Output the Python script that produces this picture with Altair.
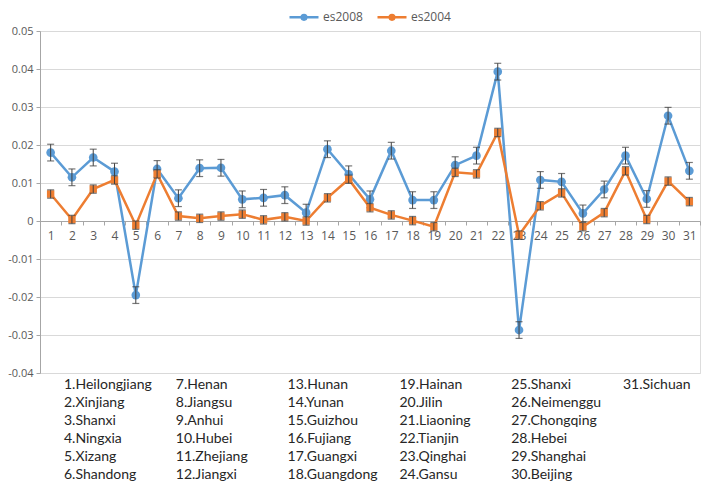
import altair as alt
import pandas as pd

# ---------------- data ----------------
index = list(range(1, 32))
es2008 = [0.0180, 0.0115, 0.0167, 0.0130, -0.0195, 0.0137, 0.0060, 0.0139, 0.0140, 0.0057,
          0.0061, 0.0068, 0.0022, 0.0189, 0.0123, 0.0057, 0.0185, 0.0055, 0.0055, 0.0147,
          0.0172, 0.0393, -0.0287, 0.0108, 0.0103, 0.0020, 0.0083, 0.0172, 0.0058, 0.0277, 0.0132]
es2004 = [0.0071, 0.0004, 0.0084, 0.0108, -0.0011, 0.0124, 0.0013, 0.0007, 0.0013, 0.0018,
          0.0003, 0.0011, 0.0000, 0.0061, 0.0110, 0.0035, 0.0016, 0.0001, -0.0015, 0.0128,
          0.0124, 0.0233, -0.0037, 0.0040, 0.0074, -0.0015, 0.0022, 0.0132, 0.0004, 0.0105, 0.0051]
err2008 = [0.0022, 0.0022, 0.0022, 0.0022, 0.0022, 0.0022, 0.0022, 0.0022, 0.0022, 0.0022,
           0.0022, 0.0022, 0.0022, 0.0022, 0.0022, 0.0022, 0.0022, 0.0022, 0.0022, 0.0022,
           0.0022, 0.0022, 0.0022, 0.0022, 0.0022, 0.0022, 0.0022, 0.0022, 0.0022, 0.0022, 0.0022]
err2004 = [0.0011, 0.0011, 0.0011, 0.0011, 0.0011, 0.0011, 0.0011, 0.0011, 0.0011, 0.0011,
           0.0011, 0.0011, 0.0011, 0.0011, 0.0011, 0.0011, 0.0011, 0.0011, 0.0011, 0.0011,
           0.0011, 0.0011, 0.0011, 0.0011, 0.0011, 0.0011, 0.0011, 0.0011, 0.0011, 0.0011, 0.0011]
series_names = ["es2008", "es2004"]
series_colors = ["#5B9BD5", "#ED7D31"]
y_ticks = [-0.04, -0.03, -0.02, -0.01, 0.0, 0.01, 0.02, 0.03, 0.04, 0.05]
provinces = ["Heilongjiang", "Xinjiang", "Shanxi", "Ningxia", "Xizang", "Shandong",
             "Henan", "Jiangsu", "Anhui", "Hubei", "Zhejiang", "Jiangxi",
             "Hunan", "Yunan", "Guizhou", "Fujiang", "Guangxi", "Guangdong",
             "Hainan", "Jilin", "Liaoning", "Tianjin", "Qinghai", "Gansu",
             "Shanxi", "Neimenggu", "Chongqing", "Hebei", "Shanghai", "Beijing",
             "Sichuan"]

rows = []
for name, vals, errs in [("es2008", es2008, err2008), ("es2004", es2004, err2004)]:
    for i, v, e in zip(index, vals, errs):
        rows.append({"series": name, "idx": i, "value": v, "lo": v - e, "hi": v + e})
df = pd.DataFrame(rows)

lab = pd.DataFrame({
    "label": [f"{i}.{p}" for i, p in zip(index, provinces)],
    "col": [(i - 1) // 6 for i in index],
    "row": [(i - 1) % 6 for i in index],
})

# ---------------- encodings ----------------
x_enc = alt.X("idx:O",
              scale=alt.Scale(type="band", domain=index, paddingInner=0, paddingOuter=0),
              axis=alt.Axis(title=None, offset=-152, labelAngle=0, tickBand="extent",
                            domainColor="#a6a6a6", tickColor="#a6a6a6", tickSize=4,
                            labelColor="#595959", labelFontSize=12, labelFont="Open Sans",
                            labelPadding=5, grid=False))
y_scale = alt.Scale(domain=[-0.04, 0.05], nice=False, zero=False)
y_axis = alt.Axis(title=None, values=y_ticks, grid=True, gridColor="#d9d9d9",
                  domainColor="#a6a6a6", tickColor="#a6a6a6", tickSize=4,
                  labelPadding=3, labelColor="#595959", labelFontSize=11,
                  labelFont="Open Sans", labelOverlap=False, labelFlush=False,
                  labelExpr="datum.value == 0 ? '0' : (datum.value < 0 ? '-' + format(-datum.value, '.2f') : format(datum.value, '.2f'))")
y_enc = alt.Y("value:Q", scale=y_scale, axis=y_axis)
y_lo = alt.Y("lo:Q", scale=y_scale, axis=y_axis)
y_hi = alt.Y("hi:Q", scale=y_scale, axis=y_axis)

legend = alt.Legend(title=None, orient="none", legendX=248, legendY=-30, direction="horizontal",
                    symbolType="M-1,0L1,0M0.16,0A0.16,0.16 0 1,1 -0.16,0A0.16,0.16 0 1,1 0.16,0",
                    symbolSize=841, symbolStrokeWidth=2.5, labelFontSize=12,
                    labelFont="Open Sans", labelColor="#595959", labelOffset=3,
                    columnPadding=9)
color_enc = alt.Color("series:N", scale=alt.Scale(domain=series_names, range=series_colors),
                      legend=legend)

base = alt.Chart(df)
layers = []
for name, shape, size in [("es2008", "circle", 75), ("es2004", "square", 55)]:
    b = base.transform_filter(alt.datum.series == name)
    layers.append(b.mark_line(strokeWidth=2.5).encode(x=x_enc, y=y_enc, color=color_enc))
    layers.append(b.mark_point(filled=True, shape=shape, size=size, opacity=1)
                  .encode(x=x_enc, y=y_enc, color=color_enc))
    layers.append(b.mark_rule(color="#404040", strokeWidth=1)
                  .encode(x=x_enc, y=y_lo, y2="hi:Q"))
    layers.append(b.mark_tick(color="#404040", thickness=1.2, size=7)
                  .encode(x=x_enc, y=y_lo))
    layers.append(b.mark_tick(color="#404040", thickness=1.2, size=7)
                  .encode(x=x_enc, y=y_hi))

plot = alt.layer(*layers)

text = alt.Chart(lab).mark_text(align="left", baseline="middle", font="Lato",
                                fontSize=14, color="#262626").encode(
    x=alt.X("col:Q", scale=alt.Scale(domain=[0, 5], range=[24, 583], nice=False, zero=False), axis=None),
    y=alt.Y("row:Q", scale=alt.Scale(domain=[0, 5], range=[354, 444], nice=False, zero=False), axis=None),
    text="label:N",
)

chart = alt.layer(plot, text).resolve_scale(x="independent", y="independent").properties(
    width=660, height=342,
    padding={"left": 32, "top": 23, "right": 1, "bottom": 110},
    autosize=alt.AutoSizeParams(type="none"),
).configure_view(strokeWidth=0).configure(background="white")

chart.save("out.html", embed_options={"renderer": "svg", "actions": False})
